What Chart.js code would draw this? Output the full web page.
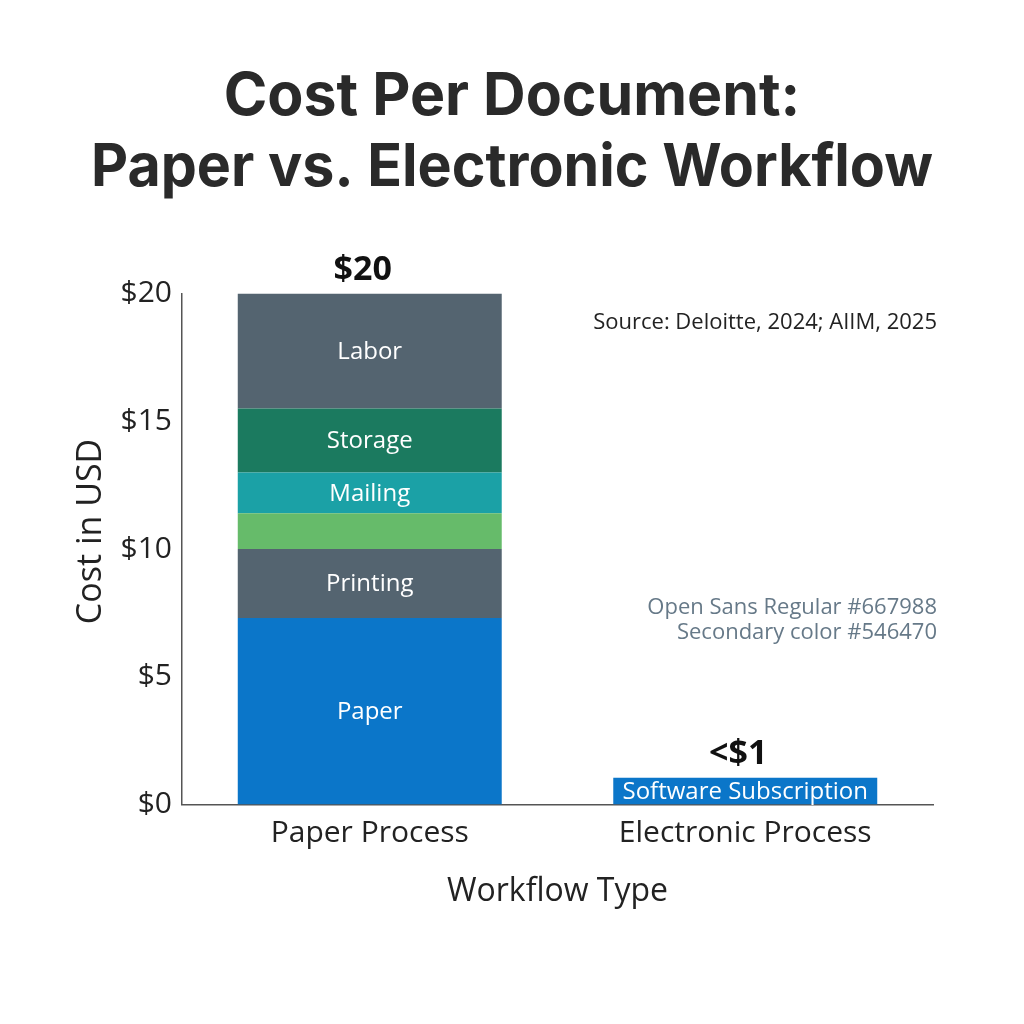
<!DOCTYPE html>
<html>
<head>
<meta charset="utf-8">
<script src="https://cdn.jsdelivr.net/npm/chart.js@4.4.1/dist/chart.umd.min.js"></script>
<style>
html,body{margin:0;padding:0;background:#fff;}
#wrap{width:1024px;height:1024px;}
</style>
</head>
<body>
<div id="wrap"><canvas id="c" width="1024" height="1024"></canvas></div>
<script>
const categories = ["Paper Process", "Electronic Process"];
const segmentNames = ["Paper", "Printing", "", "Mailing", "Storage", "Labor", "Software Subscription"];
const paperValues = [7.3, 2.7, 1.4, 1.6, 2.5, 4.5];
const electronicValues = [1.05];
const totalLabels = ["$20", "<$1"];
const yTicks = [0, 5, 10, 15, 20];
const segmentColors = ["#0b76c9", "#546470", "#66bb6a", "#1ba1a6", "#1b7a5f", "#546470", "#0b76c9"];
const sourceText = "Source: Deloitte, 2024; AIIM, 2025";
const noteLines = ["Open Sans Regular #667988", "Secondary color #546470"];

const datasets = [];
paperValues.forEach((v, i) => {
  datasets.push({label: segmentNames[i], data: [v, null], backgroundColor: segmentColors[i], stack: "s"});
});
datasets.push({label: segmentNames[6], data: [null, electronicValues[0]], backgroundColor: segmentColors[6], stack: "s"});
datasets.forEach(d => { d.barPercentage = 0.703; d.categoryPercentage = 1.0; d.borderWidth = 0; });

const labelPlugin = {
  id: "labels",
  afterDatasetsDraw(chart) {
    const ctx = chart.ctx;
    ctx.save();
    ctx.textAlign = "center";
    ctx.textBaseline = "middle";
    ctx.fillStyle = "#ffffff";
    chart.data.datasets.forEach((ds, di) => {
      const meta = chart.getDatasetMeta(di);
      meta.data.forEach((el, idx) => {
        if (ds.data[idx] == null || !ds.label) return;
        const y = (el.y + el.base) / 2;
        ctx.font = "24px 'Open Sans'";
        ctx.fillText(ds.label, el.x, y + 1);
      });
    });
    // totals
    const ys = chart.scales.y;
    const xs = chart.scales.x;
    const totals = [paperValues.reduce((a, b) => a + b, 0), electronicValues[0]];
    ctx.fillStyle = "#111111";
    ctx.font = "bold 34px 'Open Sans'";
    ctx.textBaseline = "alphabetic";
    totals.forEach((t, i) => {
      ctx.fillText(totalLabels[i], xs.getPixelForValue(i) - 7, ys.getPixelForValue(t) - 14);
    });
    // source and note
    const ca = chart.chartArea;
    ctx.textAlign = "right";
    ctx.textBaseline = "middle";
    ctx.fillStyle = "#222222";
    ctx.font = "22px 'Open Sans'";
    ctx.fillText(sourceText, ca.right + 4, ys.getPixelForValue(18.87));
    ctx.fillStyle = "#667988";
    ctx.font = "22px 'Open Sans'";
    ctx.fillText(noteLines[0], ca.right + 4, ys.getPixelForValue(7.71));
    ctx.fillText(noteLines[1], ca.right + 4, ys.getPixelForValue(6.73));
    ctx.restore();
  }
};

new Chart(document.getElementById("c"), {
  type: "bar",
  data: {labels: categories, datasets: datasets},
  plugins: [labelPlugin],
  options: {
    responsive: false,
    animation: false,
    devicePixelRatio: 1,
    layout: {padding: {top: 0, left: 91, right: 91, bottom: 113}},
    plugins: {
      legend: {display: false},
      tooltip: {enabled: false},
      title: {
        display: true,
        text: ["Cost Per Document:", "Paper vs. Electronic Workflow"],
        color: "#2a2a2a",
        font: {family: "Inter", size: 59, weight: "bold", lineHeight: 1.2},
        padding: {top: 62, bottom: 90}
      }
    },
    scales: {
      x: {
        stacked: true,
        grid: {display: false, drawTicks: false},
        border: {display: true, color: "#555555", width: 1.5},
        ticks: {color: "#222222", font: {family: "Open Sans", size: 30}, padding: 11},
        title: {display: true, text: "Workflow Type", color: "#222222", font: {family: "Open Sans", size: 32}, padding: {top: 10, bottom: 0}}
      },
      y: {
        stacked: true,
        min: 0,
        max: 20,
        afterBuildTicks(scale) { scale.ticks = yTicks.map(v => ({value: v})); },
        afterFit(scale) { scale.width = 91; },
        grid: {display: false, drawTicks: false},
        border: {display: true, color: "#555555", width: 1.5},
        ticks: {color: "#222222", font: {family: "Open Sans", size: 30}, padding: 10, callback: v => "$" + v},
        title: {display: true, text: "    Cost in USD", color: "#222222", font: {family: "Open Sans", size: 34}, padding: {top: -20, bottom: 0}}
      }
    }
  }
});
</script>
</body>
</html>
